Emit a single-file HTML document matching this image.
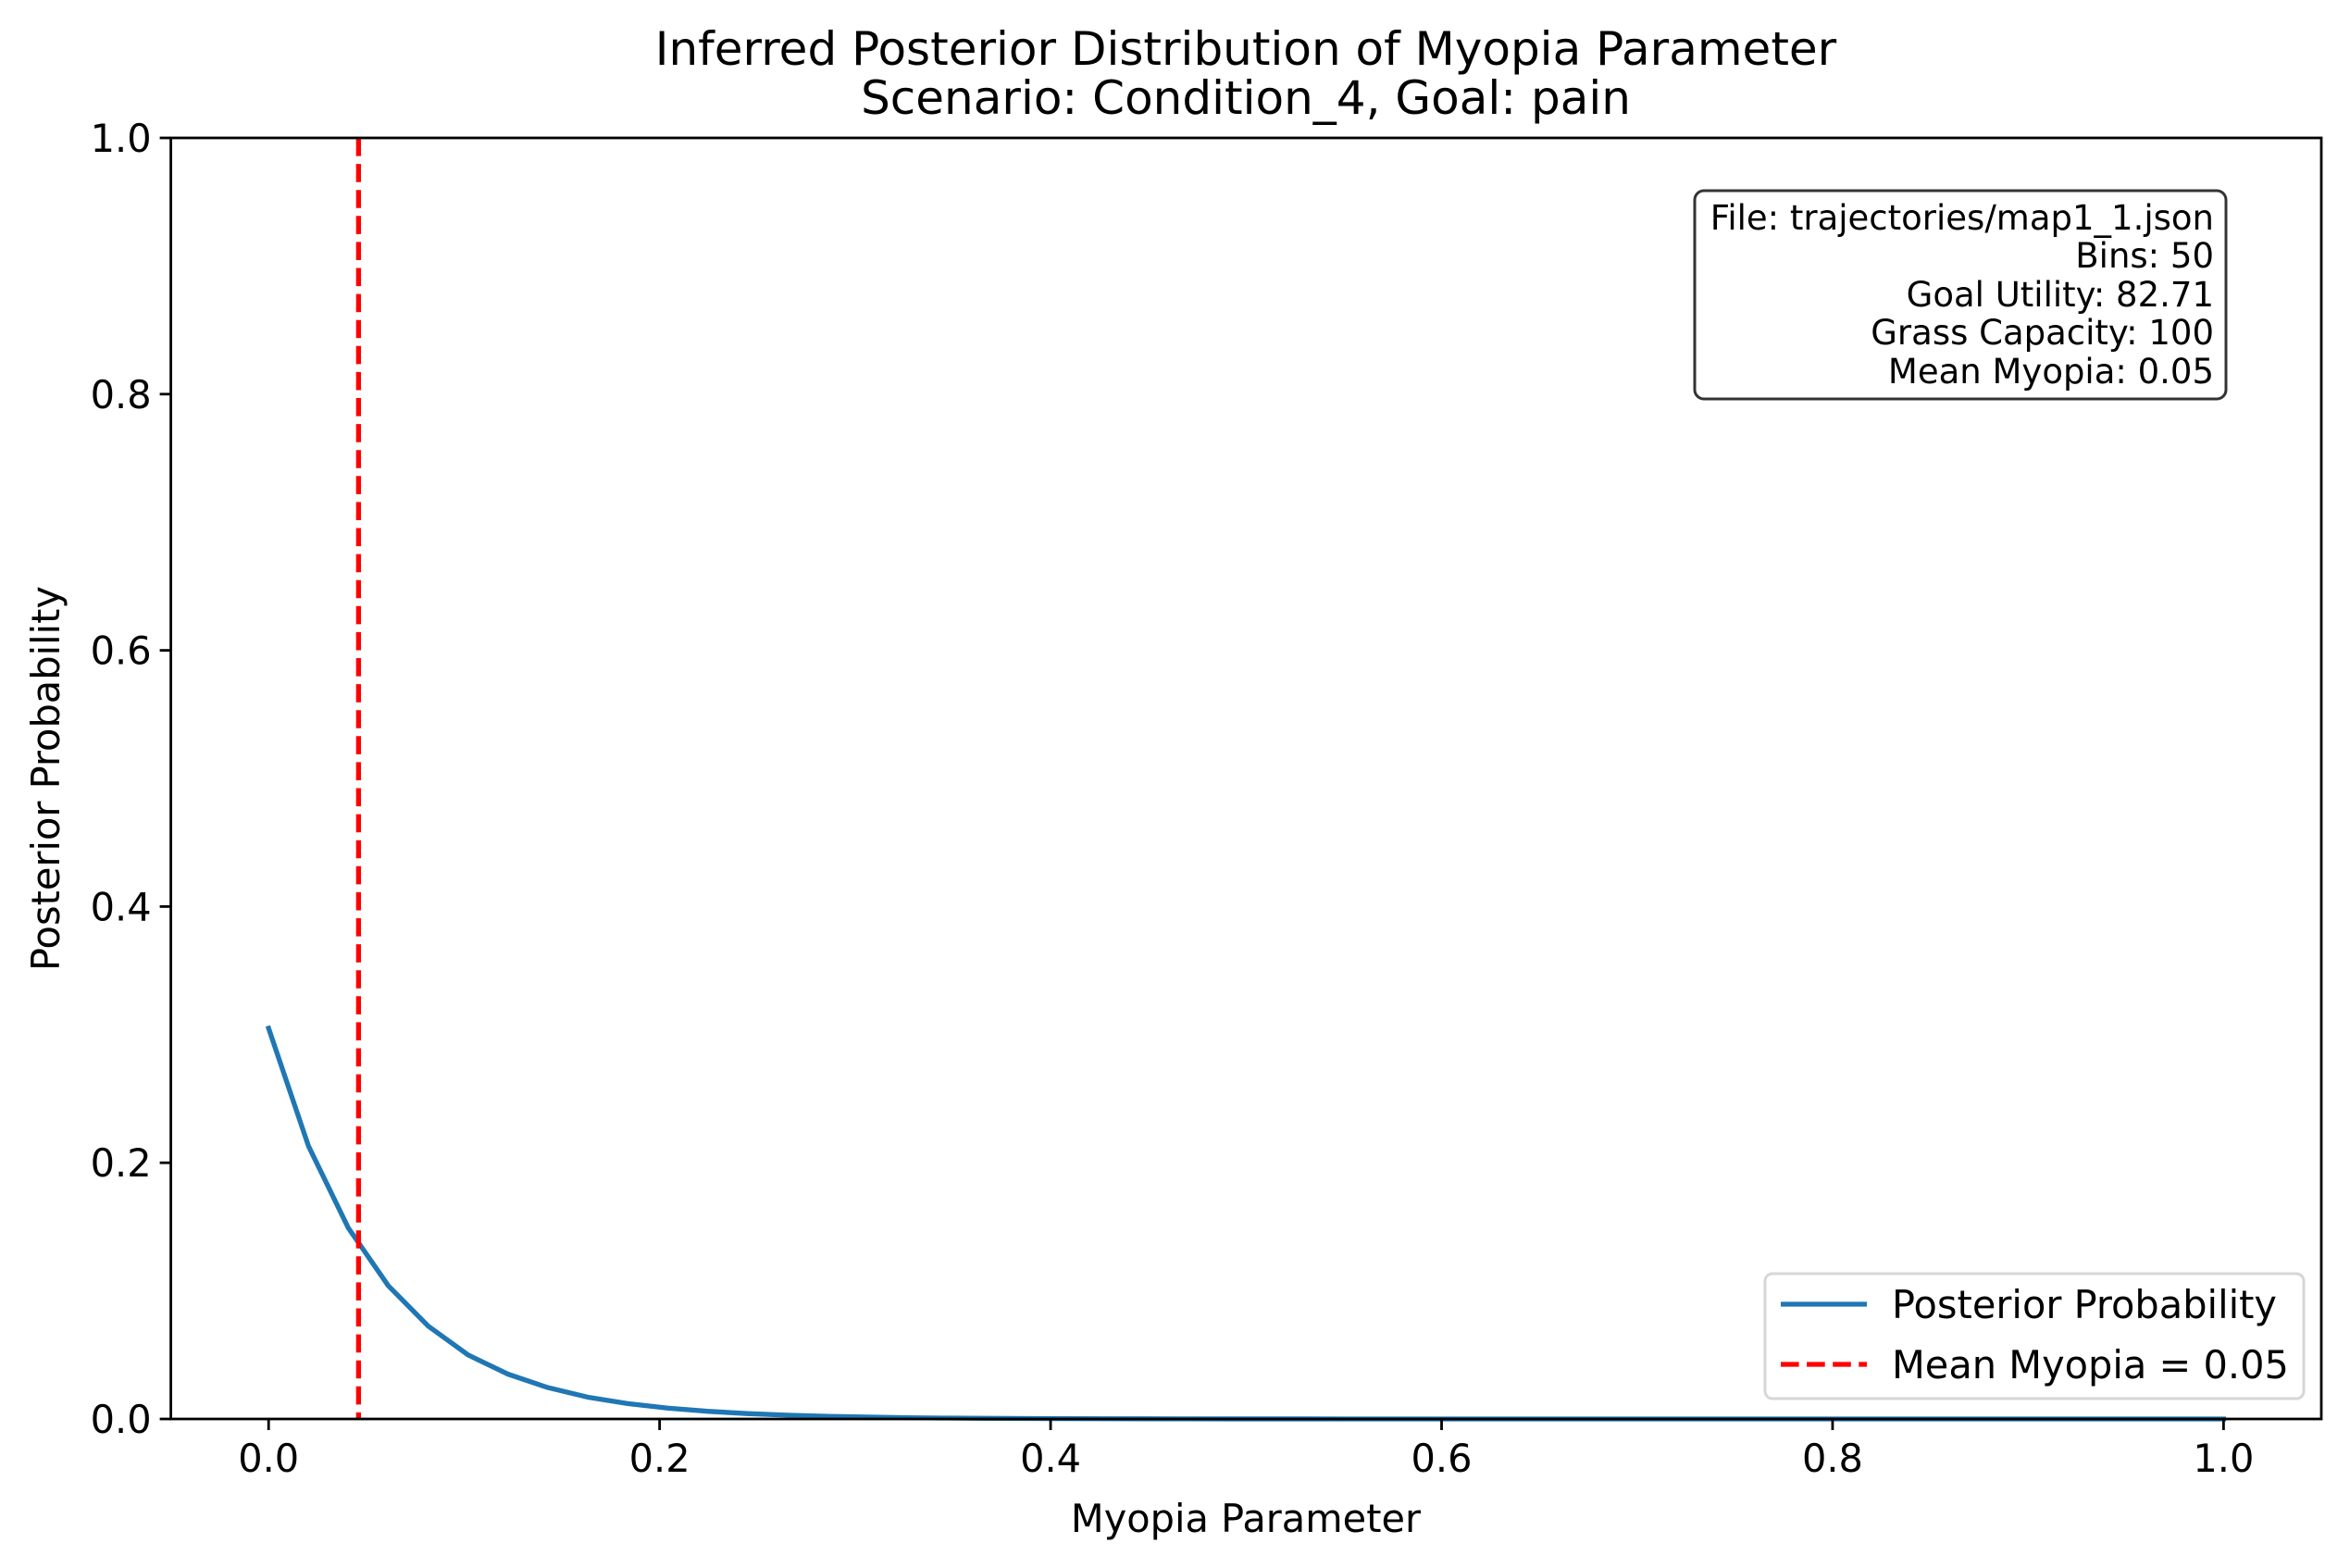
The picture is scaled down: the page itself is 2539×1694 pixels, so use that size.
<!DOCTYPE html>
<html><head><meta charset="utf-8"><style>
html,body{margin:0;padding:0;background:#fff;}
svg{display:block;font-family:"DejaVu Sans","Liberation Sans",sans-serif;}
</style></head><body>
<svg id="chart" width="2539" height="1694" viewBox="0 0 2539 1694" xmlns="http://www.w3.org/2000/svg">
<rect width="2539" height="1694" fill="#fff"/>
<text x="1346" y="70" font-size="50" text-anchor="middle">Inferred Posterior Distribution of Myopia Parameter</text>
<text x="1346" y="123" font-size="50" text-anchor="middle">Scenario: Condition_4, Goal: pain</text>
<g id="plot"></g>
<text x="1346" y="1655" font-size="41.5" text-anchor="middle">Myopia Parameter</text>
<text x="0" y="0" font-size="41.5" text-anchor="middle" transform="translate(64,841) rotate(-90)">Posterior Probability</text>
<g>
<rect x="1831" y="206" width="574" height="225" rx="10" fill="#fff" stroke="#333" stroke-width="3"/>
<g font-size="37" text-anchor="end">
<text x="2392" y="248">File: trajectories/map1_1.json</text>
<text x="2392" y="289">Bins: 50</text>
<text x="2392" y="331">Goal Utility: 82.71</text>
<text x="2392" y="372">Grass Capacity: 100</text>
<text x="2392" y="414">Mean Myopia: 0.05</text>
</g></g>
<g>
<rect x="1907" y="1376" width="582" height="135" rx="8" fill="#fff" fill-opacity="0.8" stroke="#d6d6d6" stroke-width="3"/>
<line x1="1924" y1="1409" x2="2017" y2="1409" stroke="#1f77b4" stroke-width="5.3"/>
<text x="2044" y="1424" font-size="41.5">Posterior Probability</text>
<line x1="1924" y1="1474" x2="2017" y2="1474" stroke="#ff0000" stroke-width="5.3" stroke-dasharray="19.6 8.5"/>
<text x="2044" y="1489" font-size="41.5">Mean Myopia = 0.05</text>
</g>
</svg>
<script>
const probs = [0.305,0.213,0.149,0.104,0.0725,0.050,0.035,0.0245,0.017,0.012,0.0085,0.006,0.0042,0.003,0.0021,0.0015,0.001,0.0007,0.0005,0.00035,0.00025,0.00017,0.00012,0.00008,0.00006,0.00004,0.00003,0.00002,0.00001,0.00001,0,0,0,0,0,0,0,0,0,0,0,0,0,0,0,0,0,0,0,0];
const meanMyopia = [0.046];
const xTicks = [0.0,0.2,0.4,0.6,0.8,1.0];
const xTickLabels = ["0.0","0.2","0.4","0.6","0.8","1.0"];
const yTicks = [0.0,0.2,0.4,0.6,0.8,1.0];
const yTickLabels = ["0.0","0.2","0.4","0.6","0.8","1.0"];

const L=184.6,R=2508,T=149,B=1533,xmin=-0.05,xmax=1.05,ymin=0,ymax=1;
const sx=v=>L+(v-xmin)/(xmax-xmin)*(R-L);
const sy=v=>B-(v-ymin)/(ymax-ymin)*(B-T);
const NS="http://www.w3.org/2000/svg";
const g=document.getElementById('plot');
function mk(tag,attrs){const e=document.createElementNS(NS,tag);for(const k in attrs)e.setAttribute(k,attrs[k]);g.appendChild(e);return e;}

const n=probs.length;
const pts=probs.map((p,i)=>sx(i/(n-1)).toFixed(2)+','+sy(p).toFixed(2)).join(' ');
const line=mk('polyline',{points:pts,fill:'none',stroke:'#1f77b4','stroke-width':5.3,'stroke-linejoin':'round','stroke-linecap':'square'});



meanMyopia.forEach(m=>{
  const v=mk('line',{x1:sx(m),x2:sx(m),y1:T,y2:B,stroke:'#ff0000','stroke-width':5.3,'stroke-dasharray':'19.6 8.5'});
  
  
});

const frame=mk('rect',{x:L,y:T,width:R-L,height:B-T,fill:'none',stroke:'#000','stroke-width':2.8});



xTicks.forEach((t,i)=>{
  const tk=mk('line',{x1:sx(t),x2:sx(t),y1:B,y2:B+12,stroke:'#000','stroke-width':2.8});
  
  
  const tx=mk('text',{x:sx(t),y:B+57,'font-size':41.5,'text-anchor':'middle'});
  tx.textContent=xTickLabels[i];
  
  
});
yTicks.forEach((t,i)=>{
  const tk=mk('line',{x1:L-12,x2:L,y1:sy(t),y2:sy(t),stroke:'#000','stroke-width':2.8});
  
  
  const tx=mk('text',{x:L-21,y:sy(t)+15,'font-size':41.5,'text-anchor':'end'});
  tx.textContent=yTickLabels[i];
  
  
});
</script>
</body></html>
